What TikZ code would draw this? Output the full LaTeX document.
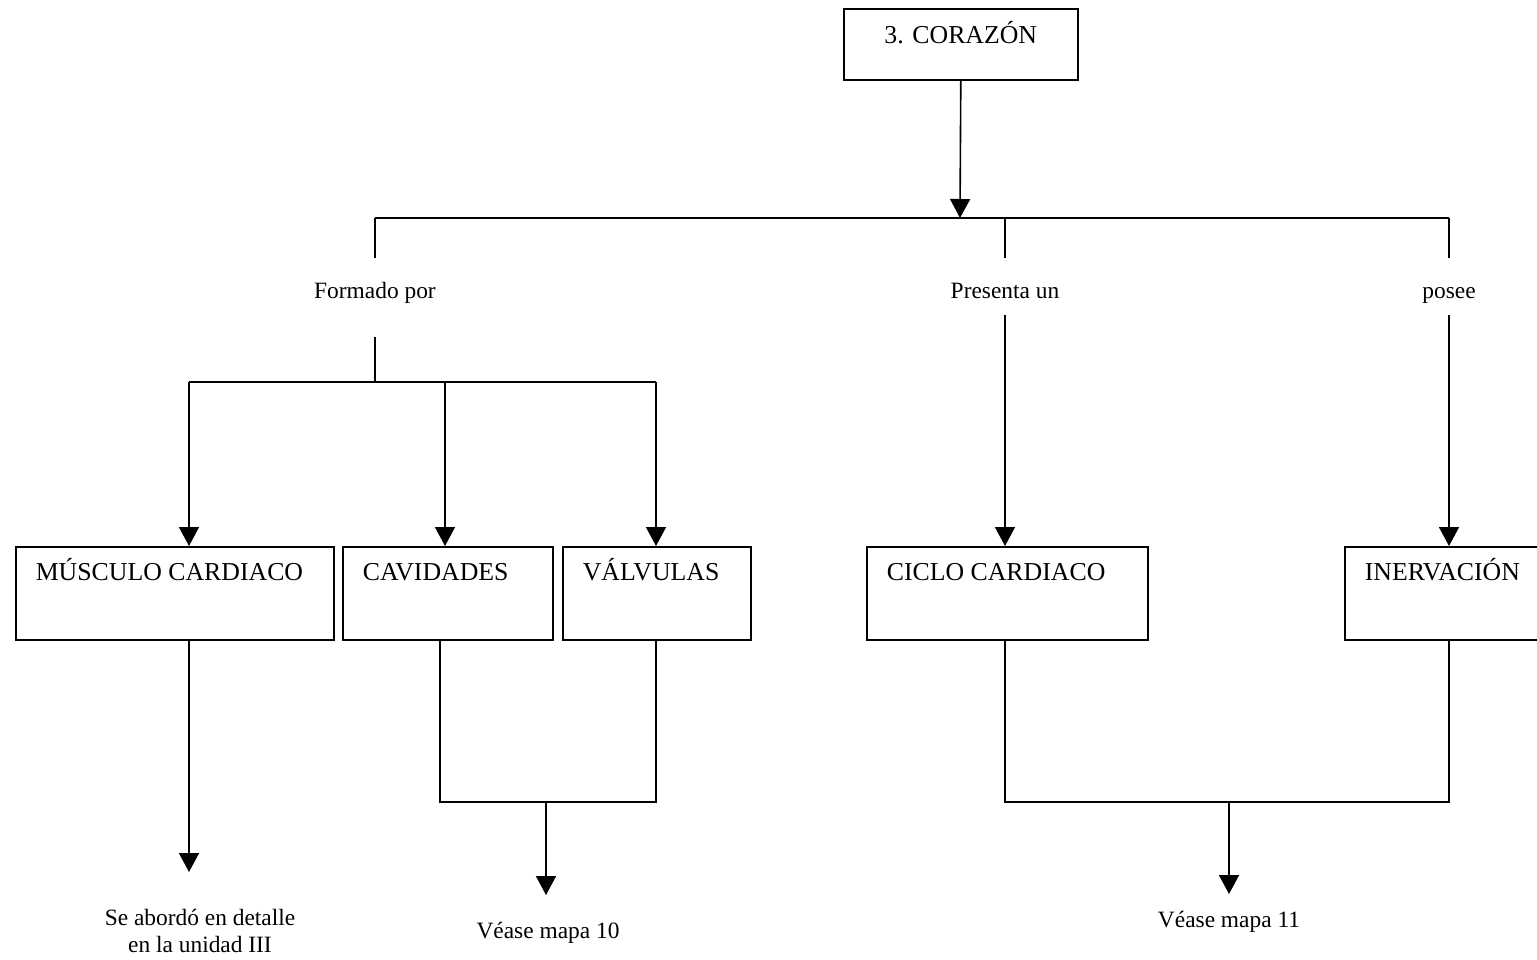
\documentclass[tikz,border=0pt]{standalone}
\usepackage{fontspec}
\setmainfont{Liberation Serif}
\usetikzlibrary{arrows.meta}

\begin{document}
\begin{tikzpicture}[x=1pt, y=-1pt, line width=1.6pt,
  box/.style={draw, rectangle, inner sep=0pt, anchor=north west},
  boxfont/.style={font=\fontsize{25.8pt}{30pt}\selectfont},
  boxtext/.style={boxfont, inner sep=0pt, anchor=base west, xshift=20pt, yshift=-34pt},
  toptext/.style={boxfont, inner sep=0pt, anchor=base, yshift=-35pt},
  note/.style={font=\fontsize{23.4pt}{27pt}\selectfont, inner sep=0pt, align=center},
  arr/.style={-{Triangle[width=20pt,length=19pt]}}]

  % page frame
  \useasboundingbox (0,0) rectangle (1537,959);
  \fill[white] (0,0) rectangle (1537,959);

  % concept boxes
  \node[box, minimum width=234pt, minimum height=71pt,
        label={[toptext]north:3. CORAZÓN}] (cor) at (843,8) {};
  \node[box, minimum width=318pt, minimum height=93pt,
        label={[boxtext]north west:MÚSCULO CARDIACO}] (mus) at (15,546) {};
  \node[box, minimum width=210pt, minimum height=93pt,
        label={[boxtext]north west:CAVIDADES}] (cav) at (342,546) {};
  \node[box, minimum width=188pt, minimum height=93pt,
        label={[boxtext]north west:VÁLVULAS}] (val) at (562,546) {};
  \node[box, minimum width=281pt, minimum height=93pt,
        label={[boxtext]north west:CICLO CARDIACO}] (cic) at (866,546) {};
  \node[box, minimum width=230pt, minimum height=93pt,
        label={[boxtext]north west:INERVACIÓN}] (ine) at (1344,546) {};

  % linking words
  \node[note, anchor=base] (form) at (375,298) {Formado por};
  \node[note, anchor=base] (pres) at (1005,298) {Presenta un};
  \node[note, anchor=base] (pos)  at (1449,298) {posee};

  % references
  \node[note, anchor=north] (unid) at (200,908.5) {Se abordó en detalle\\en la unidad III};
  \node[note, anchor=base] (m10) at (548,938) {Véase mapa 10};
  \node[note, anchor=base] (m11) at (1229,927) {Véase mapa 11};

  % junction points
  \coordinate (jtop) at (960,218);
  \coordinate (jl) at (375,218);
  \coordinate (jp) at (1005,218);
  \coordinate (jr) at (1449,218);
  \coordinate (fa) at (375,258);
  \coordinate (pa) at (1005,258);
  \coordinate (qa) at (1449,258);
  \coordinate (fb) at (375,337);
  \coordinate (fj) at (375,382);
  \coordinate (hl) at (189,382);
  \coordinate (hm) at (445,382);
  \coordinate (hr) at (656,382);
  \coordinate (pb) at (1005,315);
  \coordinate (qb) at (1449,315);
  \coordinate (c1) at (440,802);
  \coordinate (v1) at (656,802);
  \coordinate (k1) at (1005,802);
  \coordinate (k2) at (1449,802);
  \coordinate (t1) at (189,872);
  \coordinate (t2) at (546,895);
  \coordinate (t3) at (1229,894);

  % upper tree
  \draw[arr] (cor.south) -- (jtop);
  \draw (jl) -- (jr);
  \draw (jl) -- (fa);
  \draw (jp) -- (pa);
  \draw (jr) -- (qa);
  \draw (fb) -- (fj);
  \draw (hl) -- (hr);
  \draw[arr] (hl) -- (hl |- mus.north);
  \draw[arr] (hm) -- (hm |- cav.north);
  \draw[arr] (hr) -- (hr |- val.north);
  \draw[arr] (pb) -- (pb |- cic.north);
  \draw[arr] (qb) -- (qb |- ine.north);

  % lower tree
  \draw[arr] (hl |- mus.south) -- (t1);
  \draw (c1 |- cav.south) -- (c1) -- (v1) -- (v1 |- val.south);
  \draw[arr] (t2 |- c1) -- (t2);
  \draw (k1 |- cic.south) -- (k1) -- (k2) -- (k2 |- ine.south);
  \draw[arr] (t3 |- k1) -- (t3);
\end{tikzpicture}
\end{document}
